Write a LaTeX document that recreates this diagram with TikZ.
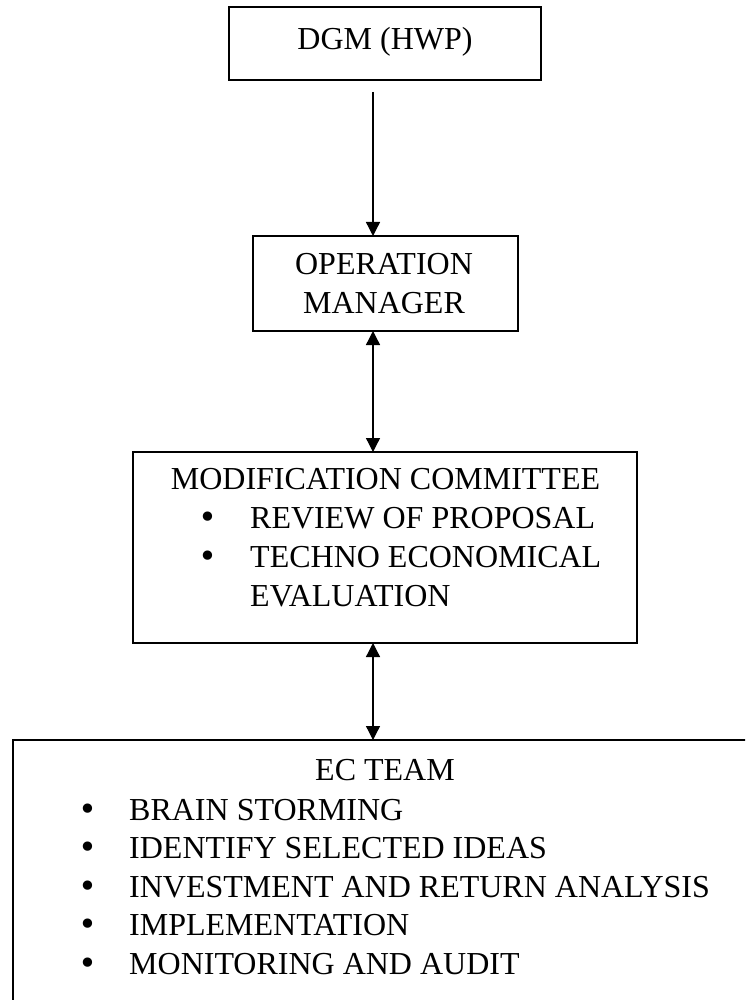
\documentclass[tikz,border=0pt]{standalone}
\usepackage{fontspec}
\setmainfont{Liberation Serif}
\newfontfamily\dvs{DejaVu Sans}
\usetikzlibrary{arrows.meta}
\begin{document}
\begin{tikzpicture}[x=1pt,y=-1pt,
  box/.style={draw, line width=1.8pt, rectangle, inner sep=0pt, outer sep=0pt},
  txt/.style={anchor=base, inner sep=0pt, font=\fontsize{32}{38.6}\selectfont},
  itm/.style={txt, anchor=base west},
  bul/.style={anchor=base, inner sep=0pt, font=\dvs\fontsize{32}{38.6}\selectfont},
  conn/.style={line width=1.3pt},
  tip/.tip={Triangle[width=14pt,length=14pt]}]
\useasboundingbox (0,0) rectangle (745,1000);
\clip (0,0) rectangle (745,1000);
% boxes
\node[box, minimum width=312pt, minimum height=73pt] (dgm) at (385,43.5) {};
\node[box, minimum width=265pt, minimum height=95pt] (op) at (385.5,283.5) {};
\node[box, minimum width=504pt, minimum height=191pt] (mc) at (385,547.5) {};
\node[box, minimum width=767pt, minimum height=300pt] (ec) at (396.5,890) {};
% texts
\node[txt] (t1) at (385,49.3) {DGM (HWP)};
\node[txt] (t2) at (384,274.5) {OPERATION};
\node[txt] (t3) at (384,313) {MANAGER};
\node[txt] (t4) at (385.5,489.5) {MODIFICATION COMMITTEE};
\node[bul] (b41) at (208,528.5) {•};
\node[bul] (b42) at (208,567.5) {•};
\node[itm] (t41) at (250,528.5) {REVIEW OF PROPOSAL};
\node[itm] (t42) at (250,567.5) {TECHNO ECONOMICAL};
\node[itm] (t43) at (250,606.5) {EVALUATION};
\node[txt] (t5) at (385,780) {EC TEAM};
\node[bul] (b51) at (88,820) {•};
\node[bul] (b52) at (88,858.5) {•};
\node[bul] (b53) at (88,897) {•};
\node[bul] (b54) at (88,935.5) {•};
\node[bul] (b55) at (88,974) {•};
\node[itm] (t51) at (129,820) {BRAIN STORMING};
\node[itm] (t52) at (129,858.5) {IDENTIFY SELECTED IDEAS};
\node[itm] (t53) at (129,897) {INVESTMENT AND RETURN ANALYSIS};
\node[itm] (t54) at (129,935.5) {IMPLEMENTATION};
\node[itm] (t55) at (129,974) {MONITORING AND AUDIT};
% connectors
\coordinate (ax) at (373,0);
\draw[conn, -tip, shorten <=12pt] (dgm.south -| ax) -- (op.north -| ax);
\draw[conn, tip-tip] (op.south -| ax) -- (mc.north -| ax);
\draw[conn, tip-tip] (mc.south -| ax) -- (ec.north -| ax);
\end{tikzpicture}
\end{document}
